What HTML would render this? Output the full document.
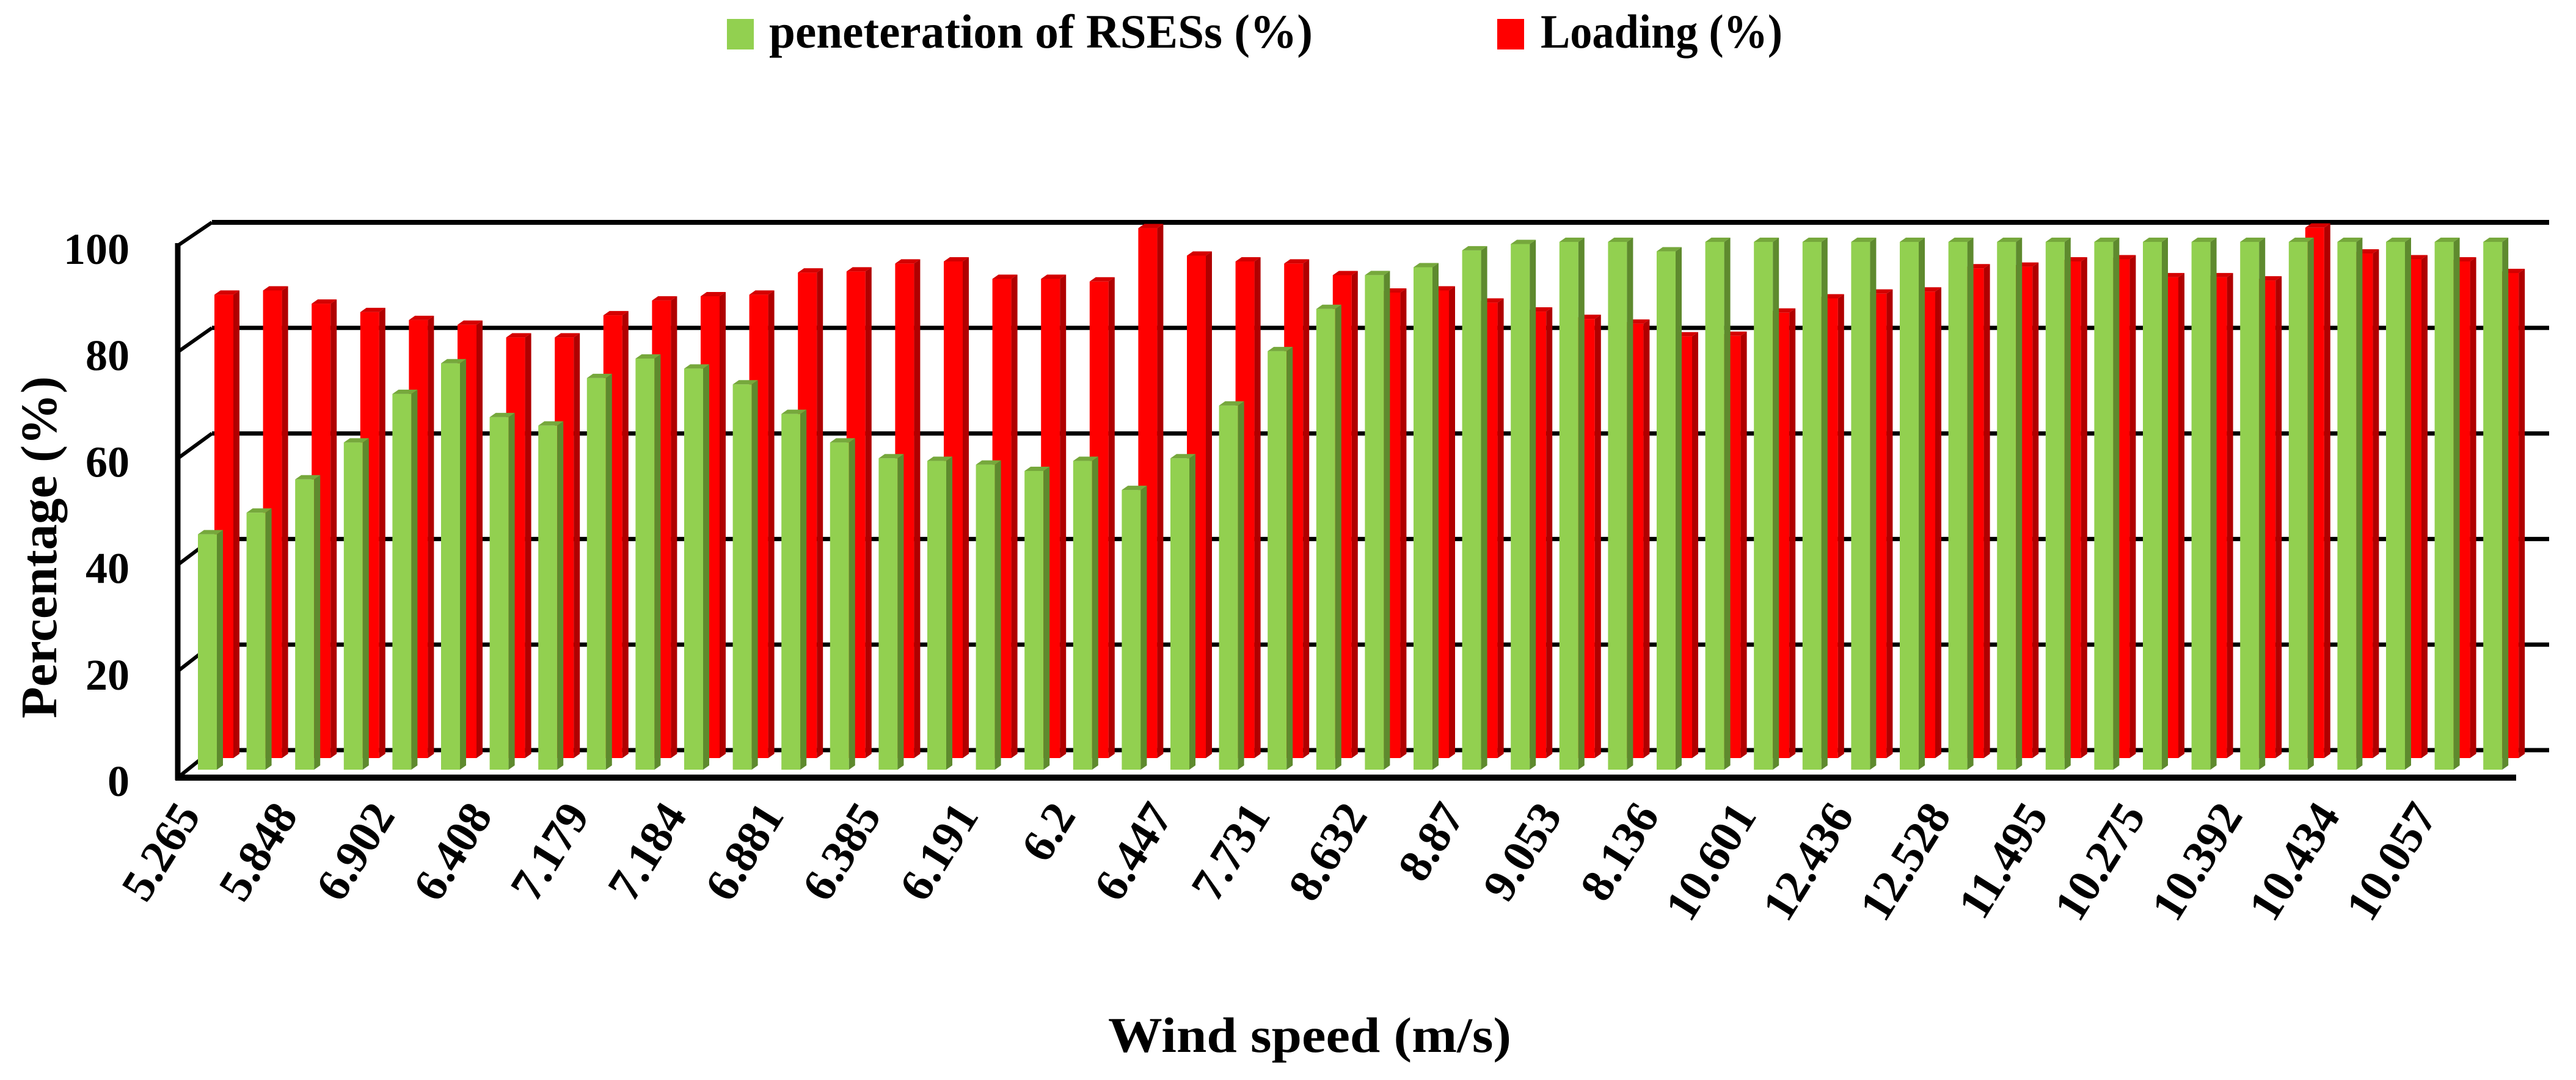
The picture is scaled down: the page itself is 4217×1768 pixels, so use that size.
<!DOCTYPE html>
<html><head><meta charset="utf-8">
<style>
html,body{margin:0;padding:0;background:#fff;}
svg{display:block;}
text{font-family:"Liberation Serif",serif;font-weight:bold;fill:#000;}
</style></head>
<body>
<svg id="chart" width="4217" height="1768" viewBox="0 0 4217 1768" xmlns="http://www.w3.org/2000/svg">
  <g id="legend">
    <rect x="1190" y="31" width="44" height="50" fill="#92d050"/>
    <text x="1259" y="78" font-size="78" textLength="890" lengthAdjust="spacingAndGlyphs">peneteration of RSESs (%)</text>
    <rect x="2451" y="31" width="44" height="50" fill="#ff0000"/>
    <text x="2522" y="78" font-size="78" textLength="396" lengthAdjust="spacingAndGlyphs">Loading (%)</text>
  </g>
  <g id="walls"></g>
  <g id="bars"></g>
  <g id="axes"></g>
  <text transform="translate(92,896) rotate(-90)" text-anchor="middle" font-size="84" textLength="560" lengthAdjust="spacingAndGlyphs">Percentage (%)</text>
  <text x="2144" y="1722" text-anchor="middle" font-size="82" textLength="660" lengthAdjust="spacingAndGlyphs">Wind speed (m/s)</text>
</svg>
<script>
const categories = ["5.265","","5.848","","6.902","","6.408","","7.179","","7.184","","6.881","","6.385","","6.191","","6.2","","6.447","","7.731","","8.632","","8.87","","9.053","","8.136","","10.601","","12.436","","12.528","","11.495","","10.275","","10.392","","10.434","","10.057",""];
const penetration = [44.6,48.7,55,62,71.2,77,66.8,65.2,74.2,77.9,76,73,67.4,62,59,58.5,57.8,56.6,58.5,53,59,69,79.3,87.3,93.7,95.2,98.4,99.6,100,100,98.2,100,100,100,100,100,100,100,100,100,100,100,100,100,100,100,100,100];
const loading = [87.8,88.6,86.1,84.5,83,82.1,79.7,79.7,83.9,86.7,87.5,87.8,92,92.2,93.7,94.1,90.8,90.8,90.3,100.4,95.2,94.1,93.7,91.5,88.2,88.6,86.3,84.6,83.2,82.3,79.9,80,84.4,87.1,88,88.4,92.8,93.1,94.1,94.5,91.1,91.1,90.5,100.5,95.6,94.5,94.1,91.9];
const yTicks = [0,20,40,60,80,100];

const NS="http://www.w3.org/2000/svg";
const svg=document.getElementById('chart');
const walls=document.getElementById('walls'), barsG=document.getElementById('bars'), axes=document.getElementById('axes');
function el(tag,attrs,parent){const e=document.createElementNS(NS,tag);for(const k in attrs)e.setAttribute(k,attrs[k]);parent.appendChild(e);return e;}
const PITCH=79.6, GX0=324, RX0=351, FACE=31, SIDE=10, CAP=7;
const yBack=v=>1228-v*8.64;
const yFront=v=>1273-v*8.71;
const yGreen=v=>1260-v*8.64;
const yRed=v=>1241-v*8.64;
const xG=i=>GX0+i*PITCH, xR=i=>RX0+i*PITCH;

yTicks.forEach(t=>{
  const g=el('line',{x1:347,y1:yBack(t),x2:4173,y2:yBack(t),stroke:'#000','stroke-width':t===100?8:7},walls);
  
  
  const d=el('line',{x1:291,y1:yFront(t),x2:347,y2:yBack(t),stroke:'#000','stroke-width':6},walls);
  
  
});

function bar(x,base,top,cf,cs,ct,name){
  const g=el('g',{},barsG);
  
  
  el('rect',{x:x,y:top,width:FACE,height:base-top,fill:cf},g);
  el('polygon',{points:`${x+FACE},${top} ${x+FACE+SIDE},${top-CAP} ${x+FACE+SIDE},${base-CAP} ${x+FACE},${base}`,fill:cs},g);
  el('polygon',{points:`${x},${top} ${x+SIDE},${top-CAP} ${x+FACE+SIDE},${top-CAP} ${x+FACE},${top}`,fill:ct},g);
}
loading.forEach((v,i)=>bar(xR(i),yRed(0),yRed(v),'#ff0000','#b00000','#d40000','bar-loading-'+(i+1)));
penetration.forEach((v,i)=>bar(xG(i),yGreen(0),yGreen(v),'#92d050','#5e8a2e','#76a83c','bar-penetration-'+(i+1)));

const ya=el('line',{x1:291,y1:398,x2:291,y2:1277,stroke:'#000','stroke-width':9},axes);


const xa=el('line',{x1:287,y1:1273,x2:4119,y2:1273,stroke:'#000','stroke-width':10},axes);



yTicks.forEach(t=>{
  const tx=el('text',{x:212,y:yFront(t)+30,'text-anchor':'end','font-size':72},axes);
  tx.textContent=String(t);
  
  
});
categories.forEach((c,i)=>{
  if(!c) return;
  const x=xG(i)+6, y=1335;
  const tx=el('text',{x:x,y:y,'text-anchor':'end','font-size':76,transform:`rotate(-58 ${x} ${y})`},axes);
  tx.textContent=c;
  
  
});
</script>
</body></html>
